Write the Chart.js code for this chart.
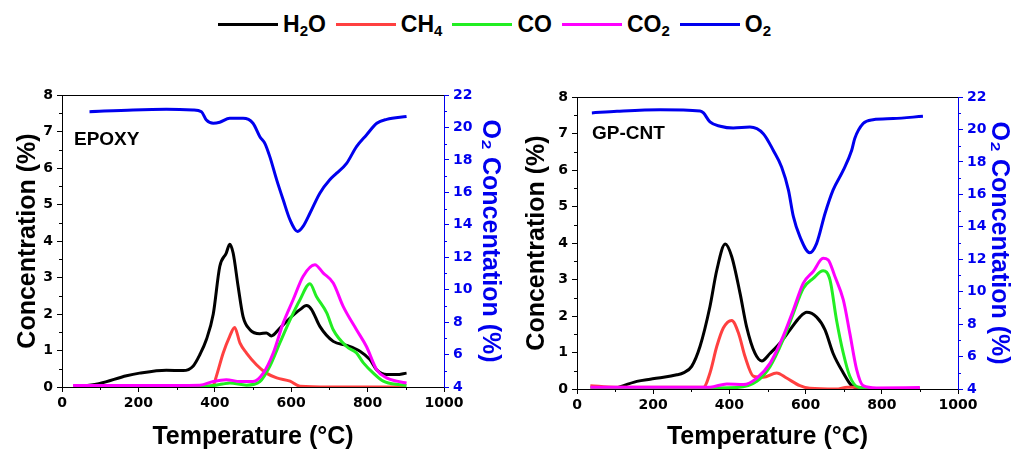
<!DOCTYPE html>
<html>
<head>
<meta charset="utf-8">
<script src="https://cdn.jsdelivr.net/npm/chart.js@4.4.1/dist/chart.umd.min.js"></script>
<style>
  body { margin: 0; background: #fff; font-family: "Liberation Sans", Arial, sans-serif; }
  #wrap { position: relative; width: 1014px; height: 452px; overflow: hidden; }
  canvas { position: absolute; top: 0; }
  #legend { position: absolute; top: 10px; left: 218px; display: flex; align-items: center;
            font-weight: bold; font-size: 23px; color: #000; white-space: nowrap; line-height: 28px; }
  #legend .item { display: flex; align-items: center; margin-right: 10px; }
  #legend .line { display: inline-block; width: 60px; height: 3px; margin-right: 5px; }
  #legend .sub { font-size: 15px; position: relative; top: 7px; }
</style>
</head>
<body>
<div id="wrap">
  <div id="legend">
    <span class="item"><span class="line" style="background:#000"></span>H<span class="sub">2</span>O</span>
    <span class="item"><span class="line" style="background:#ff4040"></span>CH<span class="sub">4</span></span>
    <span class="item"><span class="line" style="background:#22ee22"></span>CO</span>
    <span class="item"><span class="line" style="background:#ff00ff"></span>CO<span class="sub">2</span></span>
    <span class="item"><span class="line" style="background:#0000ee"></span>O<span class="sub">2</span></span>
  </div>
  <canvas id="epoxyChart" width="507" height="452" style="left:0"></canvas>
  <canvas id="cntChart" width="507" height="452" style="left:507px"></canvas>
</div>
<script>
// ========== DATA: EPOXY ========== //
const epoxyH2oT = [50, 99, 169, 203, 273, 317, 343, 361, 378, 396, 413, 430, 439, 448, 461, 474, 492, 518, 535, 548, 570, 597, 623, 640, 653, 675, 710, 745, 780, 806, 824, 850, 876, 902];
const epoxyH2o  = [0.02, 0.1, 0.31, 0.38, 0.46, 0.45, 0.57, 0.89, 1.3, 2.0, 3.3, 3.67, 3.91, 3.67, 2.76, 1.93, 1.57, 1.46, 1.48, 1.40, 1.61, 1.89, 2.12, 2.23, 2.13, 1.66, 1.25, 1.14, 0.98, 0.75, 0.47, 0.34, 0.34, 0.38];

const epoxyCh4T = [30, 200, 380, 396, 404, 422, 439, 452, 466, 483, 509, 535, 562, 597, 623, 700, 900];
const epoxyCh4  = [0.02, 0.02, 0.02, 0.05, 0.29, 0.93, 1.39, 1.63, 1.2, 0.93, 0.61, 0.38, 0.25, 0.16, 0.02, 0.0, 0.0];

const epoxyCoT = [30, 200, 387, 420, 439, 483, 518, 544, 570, 597, 623, 649, 666, 693, 710, 745, 771, 789, 815, 841, 885, 902];
const epoxyCo  = [0.02, 0.02, 0.03, 0.08, 0.11, 0.05, 0.15, 0.57, 1.2, 1.84, 2.39, 2.83, 2.48, 2.03, 1.57, 1.11, 0.93, 0.66, 0.38, 0.16, 0.06, 0.04];

const epoxyCo2T = [29, 200, 361, 396, 430, 466, 500, 527, 553, 579, 605, 631, 662, 684, 710, 736, 771, 797, 824, 850, 876, 902];
const epoxyCo2  = [0.04, 0.04, 0.05, 0.15, 0.2, 0.15, 0.15, 0.38, 0.93, 1.75, 2.39, 3.03, 3.35, 3.12, 2.85, 2.21, 1.57, 1.11, 0.47, 0.25, 0.16, 0.11];

const epoxyO2T = [72, 186, 273, 343, 365, 378, 396, 413, 439, 474, 500, 518, 531, 544, 562, 579, 597, 617, 631, 649, 675, 701, 719, 745, 771, 797, 824, 850, 902];
const epoxyO2  = [20.97, 21.08, 21.12, 21.08, 20.97, 20.46, 20.26, 20.32, 20.56, 20.56, 20.26, 19.43, 19.02, 18.2, 16.77, 15.54, 14.3, 13.59, 13.9, 14.71, 15.95, 16.77, 17.18, 17.79, 18.82, 19.54, 20.26, 20.5, 20.67];

// ========== DATA: GP-CNT ========== //
const cntH2oT = [105, 157, 192, 227, 262, 279, 301, 323, 349, 367, 389, 406, 428, 445, 467, 485, 507, 533, 559, 585, 603, 629, 651, 672, 699, 721, 742, 900];
const cntH2o  = [0.03, 0.21, 0.27, 0.32, 0.39, 0.44, 0.62, 1.17, 2.26, 3.26, 3.97, 3.63, 2.62, 1.71, 0.98, 0.77, 0.98, 1.26, 1.62, 1.97, 2.1, 1.97, 1.62, 0.98, 0.44, 0.09, 0.02, 0.0];

const cntCh4T = [35, 100, 332, 349, 367, 384, 406, 424, 441, 463, 489, 524, 550, 585, 611, 680, 710, 740, 760, 900];
const cntCh4  = [0.09, 0.05, 0.05, 0.44, 1.17, 1.67, 1.88, 1.53, 0.89, 0.35, 0.32, 0.44, 0.3, 0.09, 0.02, 0.0, 0.05, 0.05, 0.0, 0.0];

const cntCoT = [35, 300, 419, 472, 507, 541, 568, 594, 620, 646, 664, 681, 699, 716, 738, 780, 900];
const cntCo  = [0.02, 0.02, 0.04, 0.21, 0.62, 1.35, 2.08, 2.76, 3.03, 3.24, 2.99, 1.9, 0.98, 0.35, 0.05, 0.01, 0.01];

const cntCo2T = [35, 349, 393, 437, 472, 507, 541, 568, 594, 620, 646, 659, 677, 699, 716, 734, 751, 786, 900];
const cntCo2  = [0.05, 0.05, 0.14, 0.12, 0.3, 0.71, 1.44, 2.17, 2.9, 3.22, 3.58, 3.54, 3.08, 2.44, 1.53, 0.53, 0.09, 0.03, 0.04];

const cntO2T = [39, 105, 218, 323, 332, 349, 376, 410, 454, 489, 515, 537, 555, 568, 585, 611, 629, 651, 672, 699, 721, 729, 751, 777, 830, 908];
const cntO2  = [21.02, 21.12, 21.22, 21.14, 21.02, 20.46, 20.2, 20.09, 20.15, 19.74, 18.72, 17.69, 16.26, 14.62, 13.39, 12.4, 12.98, 14.82, 16.26, 17.49, 18.72, 19.44, 20.36, 20.6, 20.67, 20.81];

const seriesNames  = ["H₂O", "CH₄", "CO", "CO₂", "O₂"];
const seriesColors = ["#000000", "#ff4040", "#22ee22", "#ff00ff", "#0000ee"];

const FONT = "'Liberation Sans', Arial, sans-serif";
const TICK_FONT = { family: "'DejaVu Sans', sans-serif", size: 14, weight: 'bold' };
const TITLE_FONT = { family: FONT, size: 25, weight: 'bold' };
const O2_BLUE = "#0000ee";

function zip(xs, ys) {
    return xs.map((x, i) => ({ x: x, y: ys[i] }));
}

// ========== PLUGIN: top spine, minor ticks, panel label ========== //
const framePlugin = {
    id: 'framePlugin',
    afterDraw(chart, args, opts) {
        const { ctx, chartArea: a, scales } = chart;
        ctx.save();
        ctx.lineWidth = 1;
        ctx.strokeStyle = "#000";
        ctx.beginPath();
        ctx.moveTo(a.left, a.top + 0.5);
        ctx.lineTo(a.right, a.top + 0.5);
        ctx.stroke();

        const drawMinor = (scale, step, color, side) => {
            ctx.strokeStyle = color;
            ctx.beginPath();
            for (let v = scale.min + step; v < scale.max; v += 2 * step) {
                const p = Math.round(scale.getPixelForValue(v)) + 0.5;
                if (side === 'bottom') { ctx.moveTo(p, a.bottom); ctx.lineTo(p, a.bottom + 3); }
                if (side === 'left') { ctx.moveTo(a.left, p); ctx.lineTo(a.left - 3, p); }
                if (side === 'right') { ctx.moveTo(a.right, p); ctx.lineTo(a.right + 3, p); }
            }
            ctx.stroke();
        };
        drawMinor(scales.x, 100, "#000", 'bottom');
        drawMinor(scales.y, 0.5, "#000", 'left');
        drawMinor(scales.y2, 1, O2_BLUE, 'right');

        ctx.fillStyle = "#000";
        ctx.font = "bold 19px " + FONT;
        ctx.textBaseline = "middle";
        ctx.fillText(opts.text, a.left + opts.dx, a.top + opts.dy);
        ctx.restore();
    }
};

function makeChart(canvasId, panel, series, geo) {
    const datasets = series.map((s, i) => ({
        label: seriesNames[i],
        data: zip(s[0], s[1]),
        borderColor: seriesColors[i],
        borderWidth: 3,
        pointRadius: 0,
        fill: false,
        cubicInterpolationMode: 'monotone',
        yAxisID: i === 4 ? 'y2' : 'y',
        order: i === 4 ? 0 : 5 - i
    }));

    return new Chart(document.getElementById(canvasId), {
        type: 'line',
        data: { datasets: datasets },
        plugins: [framePlugin],
        options: {
            responsive: false,
            animation: false,
            layout: { padding: { top: geo.top, left: 0, right: 0, bottom: 0 } },
            plugins: {
                legend: { display: false },
                tooltip: { enabled: false },
                framePlugin: { text: panel, dx: geo.labelDx, dy: geo.labelDy }
            },
            scales: {
                x: {
                    type: 'linear',
                    min: 0, max: 1000,
                    afterFit: s => { s.height = geo.xHeight; },
                    ticks: { stepSize: 200, color: "#000", padding: 3, font: TICK_FONT, callback: v => String(v) },
                    grid: { drawOnChartArea: false, tickLength: 5, color: "#000" },
                    border: { color: "#000", width: 1 },
                    title: { display: true, text: "Temperature (°C)", color: "#000",
                             padding: { top: 0, bottom: 0 }, font: TITLE_FONT }
                },
                y: {
                    position: 'left',
                    min: 0, max: 8,
                    afterFit: s => { s.width = geo.yWidth; },
                    ticks: { stepSize: 1, color: "#000", padding: 4, font: TICK_FONT },
                    grid: { drawOnChartArea: false, tickLength: 5, color: "#000" },
                    border: { color: "#000", width: 1 },
                    title: { display: true, text: "Concentration (%)", color: "#000",
                             padding: { top: geo.yTitlePad, bottom: 0 }, font: TITLE_FONT }
                },
                y2: {
                    position: 'right',
                    min: 4, max: 22,
                    afterFit: s => { s.width = geo.y2Width; },
                    ticks: { stepSize: 2, color: O2_BLUE, padding: 4, font: TICK_FONT },
                    grid: { drawOnChartArea: false, tickLength: 5, color: O2_BLUE },
                    border: { color: O2_BLUE, width: 1 },
                    title: { display: true, text: "O₂ Concentation (%)", color: O2_BLUE,
                             padding: { top: geo.y2TitlePad, bottom: 0 }, font: TITLE_FONT }
                }
            }
        }
    });
}

makeChart('epoxyChart', "EPOXY", [
    [epoxyH2oT, epoxyH2o], [epoxyCh4T, epoxyCh4], [epoxyCoT, epoxyCo], [epoxyCo2T, epoxyCo2], [epoxyO2T, epoxyO2]
], { top: 95, xHeight: 65, yWidth: 62, y2Width: 63, yTitlePad: 13, y2TitlePad: 2, labelDx: 12, labelDy: 45 });

makeChart('cntChart', "GP-CNT", [
    [cntH2oT, cntH2o], [cntCh4T, cntCh4], [cntCoT, cntCo], [cntCo2T, cntCo2], [cntO2T, cntO2]
], { top: 97, xHeight: 63, yWidth: 70, y2Width: 56, yTitlePad: 15, y2TitlePad: 0, labelDx: 15, labelDy: 37 });
</script>
</body>
</html>
